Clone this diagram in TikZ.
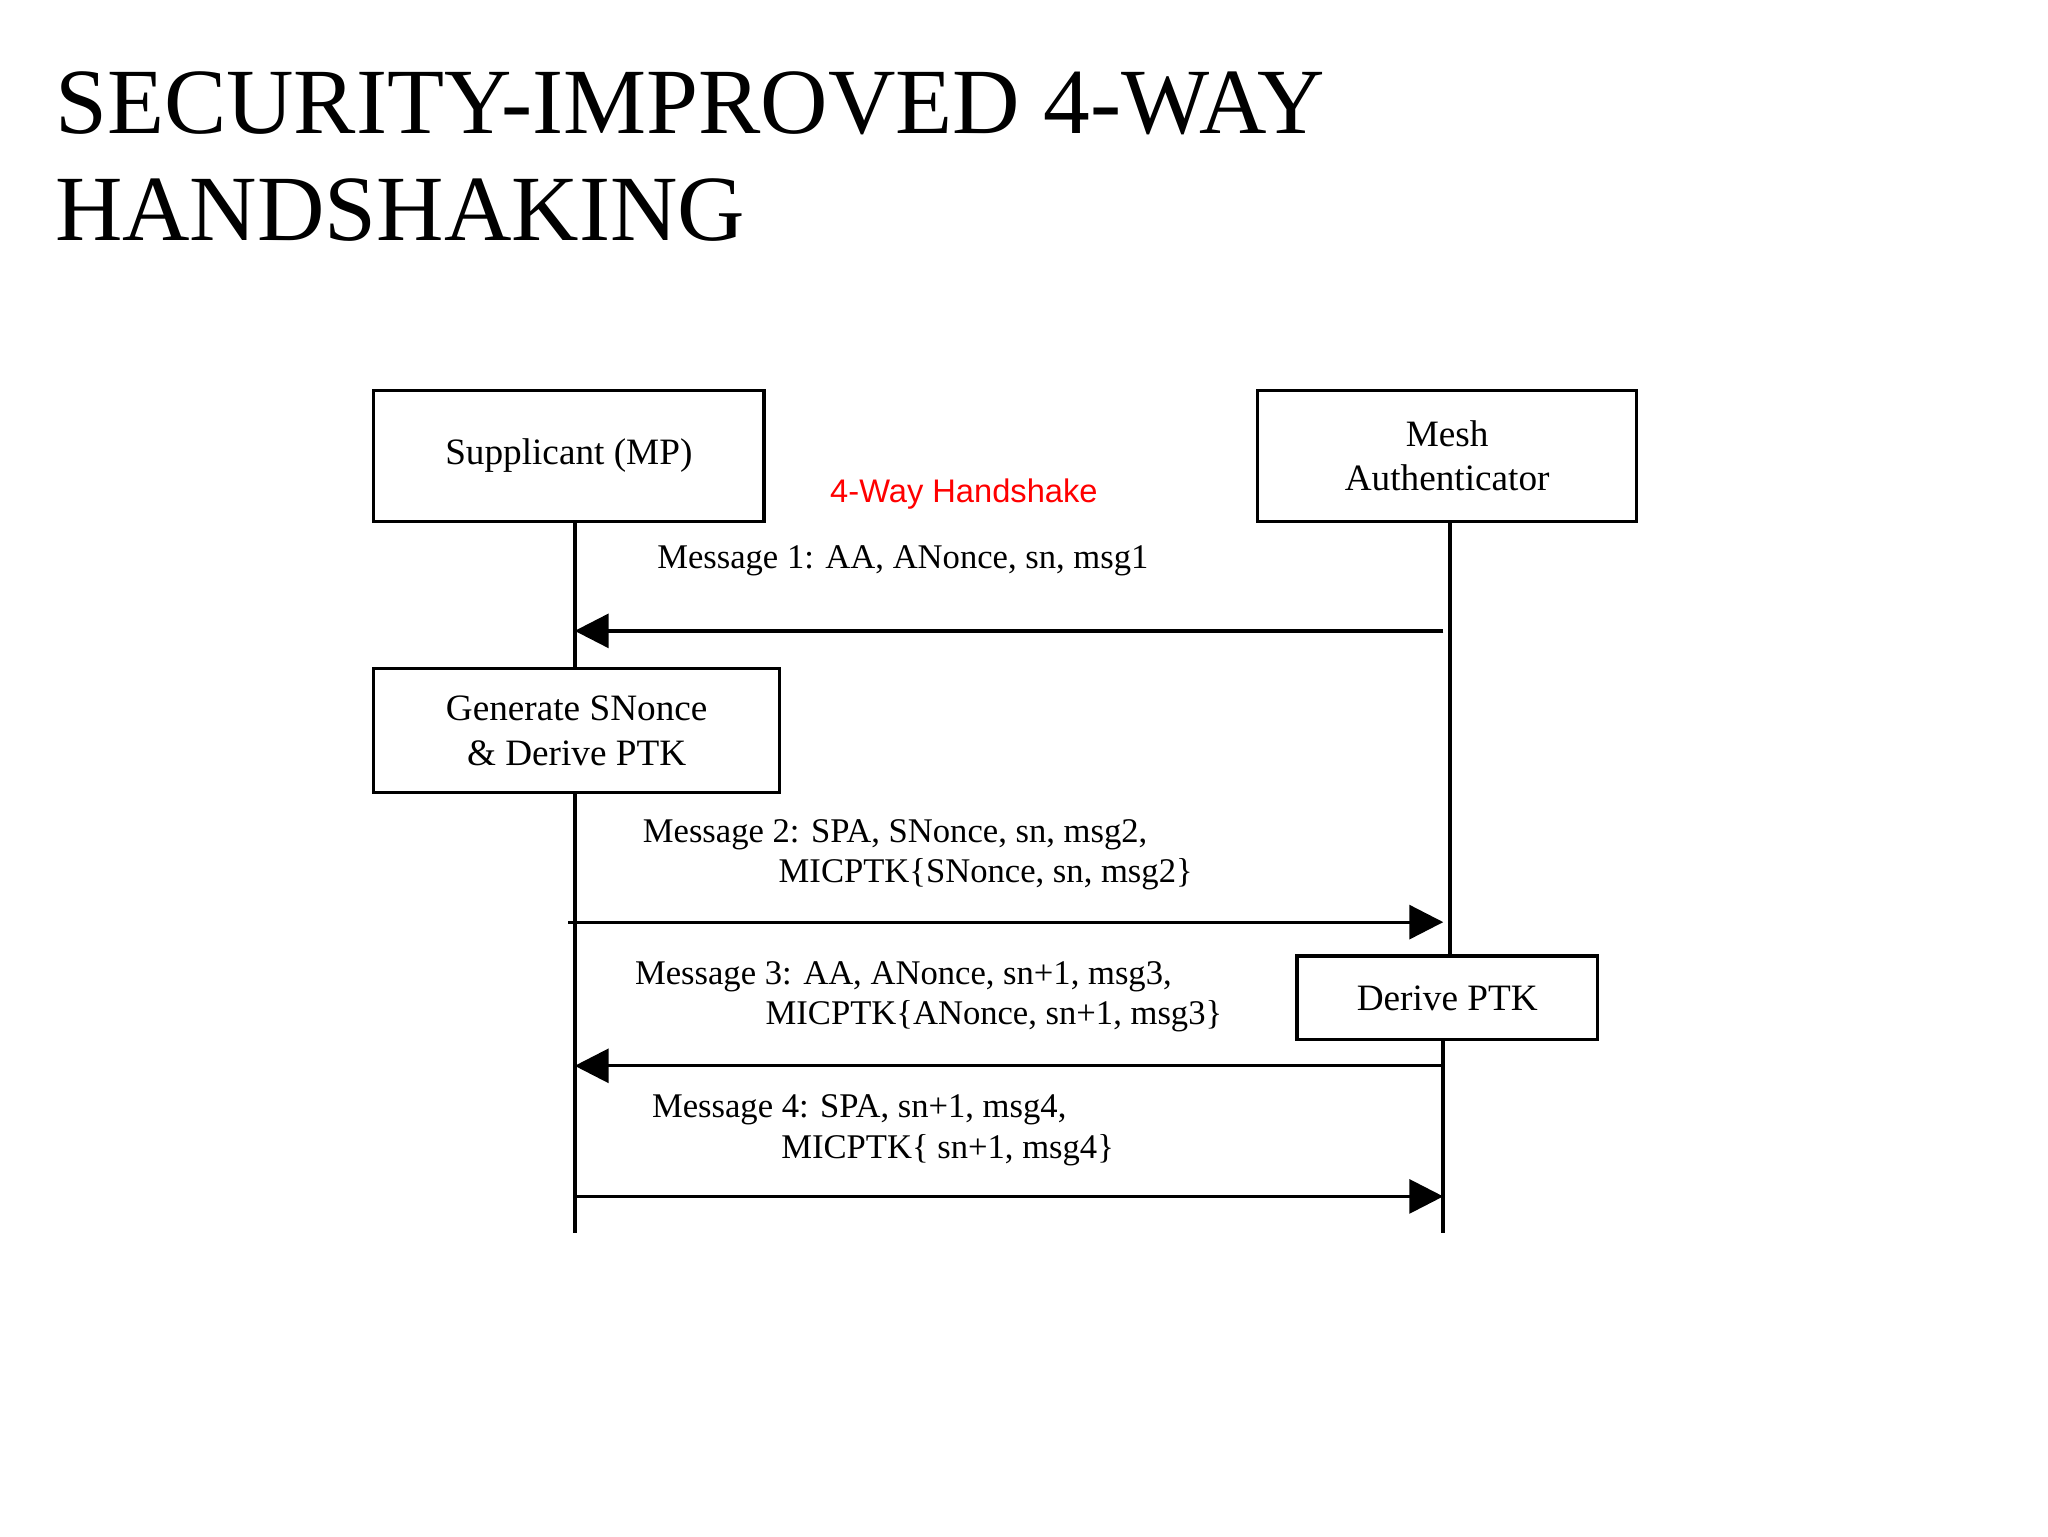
\documentclass[tikz,border=0pt]{standalone}
\usepackage{fontspec}
\setmainfont{Liberation Serif}
\newfontfamily\sansf{Liberation Sans}
\usetikzlibrary{arrows.meta}
\begin{document}
\begin{tikzpicture}[x=1pt,y=-1pt,
  box/.style={draw,line width=2.5pt,inner sep=0pt,align=center,font=\fontsize{28.5}{34}\selectfont},
  lbl/.style={font=\fontsize{26.5}{31}\selectfont,align=left,inner sep=0pt},
  life/.style={line width=3pt},
  msg/.style={line width=2.5pt,-{Triangle[length=26pt,width=26pt]}}]
\useasboundingbox (0,0) rectangle (1568,1176);
\node[anchor=west,font=\fontsize{71.5}{82}\selectfont,align=left,inner sep=0pt] (title) at (42,120) {SECURITY-IMPROVED 4-WAY\\HANDSHAKING};
\node[box,minimum width=299pt,minimum height=100pt] (sup) at (435.5,349) {\raisebox{-4pt}{Supplicant (MP)}};
\node[box,minimum width=290pt,minimum height=100pt] (auth) at (1108,349) {Mesh\\Authenticator};
\node[text=red,font=\sansf\fontsize{25}{30}\selectfont,inner sep=0pt] (hs) at (738,378) {4-Way Handshake};
\node[box,minimum width=311pt,minimum height=95pt] (gen) at (441.5,559.5) {Generate SNonce\\\& Derive PTK};
\node[box,minimum width=230pt,minimum height=64pt] (der) at (1108,764) {Derive PTK};
\coordinate (lend) at (440,944);
\coordinate (rend) at (1105,944);
\draw[life] (sup.south -| 440,0) -- (gen.north -| 440,0);
\draw[life] (gen.south -| 440,0) -- (lend);
\draw[life] (auth.south -| 1110,0) -- (der.north -| 1110,0);
\draw[life] (der.south -| 1105,0) -- (rend);
\node[lbl,anchor=west] (m1) at (503,429) {Message 1: AA, ANonce, sn, msg1};
\coordinate (a1s) at (1105,483); \coordinate (a1e) at (440,483);
\draw[msg] (a1s) -- (a1e);
\node[lbl,anchor=north west] (m2) at (492,627) {Message 2: SPA, SNonce, sn, msg2,\\\hspace*{104pt}MICPTK\{SNonce, sn, msg2\}};
\coordinate (a2s) at (435,706); \coordinate (a2e) at (1105,706);
\draw[msg] (a2s) -- (a2e);
\node[lbl,anchor=north west] (m3) at (486,736) {Message 3: AA, ANonce, sn+1, msg3,\\\hspace*{100pt}MICPTK\{ANonce, sn+1, msg3\}};
\coordinate (a3s) at (1105,816); \coordinate (a3e) at (440,816);
\draw[msg] (a3s) -- (a3e);
\node[lbl,anchor=north west] (m4) at (499,838) {Message 4: SPA, sn+1, msg4,\\\hspace*{99pt}MICPTK\{ sn+1, msg4\}};
\coordinate (a4s) at (440,916); \coordinate (a4e) at (1105,916);
\draw[msg] (a4s) -- (a4e);
\end{tikzpicture}
\end{document}
